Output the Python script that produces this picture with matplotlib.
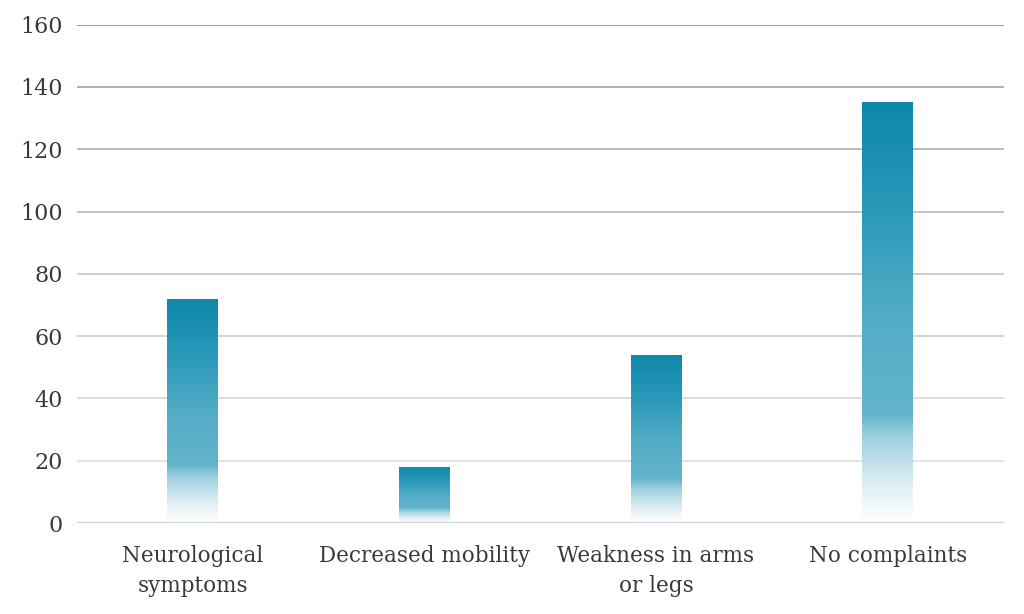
import numpy as np
import matplotlib
matplotlib.use('Agg')
import matplotlib.pyplot as plt
from matplotlib.colors import LinearSegmentedColormap
from matplotlib.patches import Rectangle

categories = ['Neurological\nsymptoms', 'Decreased mobility', 'Weakness in arms\nor legs', 'No complaints']
values = [72, 18, 54, 135]
yticks = [0, 20, 40, 60, 80, 100, 120, 140, 160]

plt.rcParams['font.family'] = ['DejaVu Serif']

# bar fill: white at the bottom, dark teal at the top
cmap = LinearSegmentedColormap.from_list('teal', [
    (0.00, '#ffffff'),
    (0.08, '#e3f1f6'),
    (0.20, '#9ccfdf'),
    (0.26, '#5cb1ca'),
    (0.50, '#4aa8c4'),
    (0.75, '#1f93b6'),
    (1.00, '#0283a6')])

fig, ax = plt.subplots(figsize=(10.24, 6.14), dpi=100)
fig.subplots_adjust(left=0.075, right=0.98, top=0.96, bottom=0.148)

ax.set_xlim(-0.5, len(categories) - 0.5)
ax.set_ylim(0, 160)

# grid lines get lighter towards the bottom
for t in yticks[1:]:
    g = 0.58 + 0.33 * (1 - t / 160) ** 0.7
    ax.axhline(t, color=(g, g, g), linewidth=1.3, zorder=1)
ax.axhline(0, color='#cfcfcf', linewidth=1.6, zorder=3)

grad = np.linspace(0, 1, 256).reshape(-1, 1)
width = 0.22
for i, v in enumerate(values):
    x0 = i - width / 2
    im = ax.imshow(grad, cmap=cmap, origin='lower', aspect='auto',
                   extent=(x0, x0 + width, 0, v), zorder=2, alpha=0.96)
    im.set_clip_path(Rectangle((x0, 0), width, v, transform=ax.transData))

ax.set_xlim(-0.5, len(categories) - 0.5)
ax.set_ylim(0, 160)
ax.set_xticks(range(len(categories)))
ax.set_xticklabels(categories, fontsize=15.5, color='#3a3a3a', linespacing=1.45)
ax.set_yticks(yticks)
ax.set_yticklabels([str(t) for t in yticks], fontsize=16, color='#3a3a3a')
ax.tick_params(length=0, pad=10)
ax.tick_params(axis='x', pad=16)
for sp in ax.spines.values():
    sp.set_visible(False)

plt.savefig('out.png', dpi=100)
